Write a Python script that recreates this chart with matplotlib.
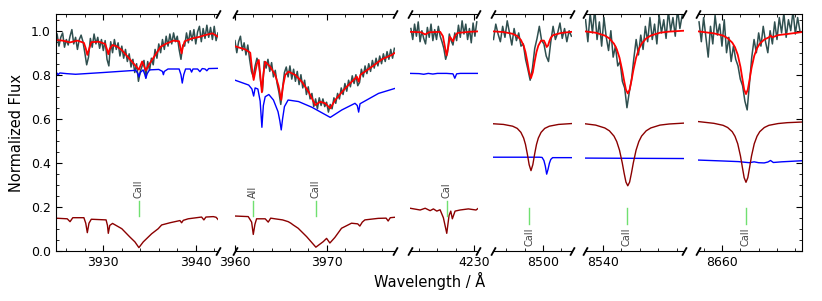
import numpy as np
import matplotlib.pyplot as plt
from matplotlib.ticker import MultipleLocator

# wavelength windows of the six broken-axis panels (Angstrom)
xlims = [(3924.85, 3942.45), (3959.95, 3977.5), (4223.0, 4230.47),
         (8494.58, 8503.13), (8538.04, 8548.8), (8657.42, 8668.76)]

# observed spectra: regular grid (start, step) + normalized flux
obs_start = [3925.0, 3960.0, 4223.1, 8494.6, 8538.1, 8657.5]
obs_step = [0.2, 0.2, 0.2, 0.25, 0.25, 0.25]
obs_1 = [0.985, 0.93, 0.97, 0.99, 0.925, 0.96, 0.935, 0.975, 1.005, 0.94,
         0.97, 0.915, 0.96, 0.98, 0.95, 0.9, 0.845, 0.88, 0.965, 0.925,
         0.985, 0.94, 0.97, 0.92, 0.96, 0.91, 0.955, 0.87, 0.84, 0.95,
         0.9, 0.96, 0.915, 0.945, 0.885, 0.93, 0.875, 0.915, 0.86, 0.895,
         0.835, 0.87, 0.81, 0.85, 0.77, 0.815, 0.84, 0.865, 0.785, 0.86,
         0.82, 0.875, 0.845, 0.915, 0.875, 0.94, 0.9, 0.96, 0.915, 0.975,
         0.93, 0.985, 0.94, 0.99, 0.95, 0.975, 0.915, 0.87, 0.935, 0.93,
         0.99, 0.945, 1.0, 0.955, 1.005, 0.94, 0.995, 1.02, 0.95, 1.01,
         0.965, 1.025, 0.97, 1.015, 0.96, 1.02, 0.955, 0.99]
obs_2 = [0.955, 0.9, 0.95, 0.975, 0.91, 0.945, 0.89, 0.935, 0.87, 0.815,
         0.79, 0.84, 0.875, 0.85, 0.77, 0.725, 0.86, 0.83, 0.87, 0.815,
         0.855, 0.79, 0.82, 0.76, 0.72, 0.665, 0.74, 0.81, 0.835, 0.79,
         0.84, 0.78, 0.825, 0.77, 0.815, 0.755, 0.8, 0.74, 0.775, 0.71,
         0.745, 0.69, 0.715, 0.655, 0.69, 0.645, 0.695, 0.66, 0.69, 0.655,
         0.675, 0.63, 0.665, 0.645, 0.695, 0.67, 0.715, 0.69, 0.74, 0.71,
         0.76, 0.725, 0.775, 0.745, 0.795, 0.76, 0.8, 0.75, 0.765, 0.825,
         0.79, 0.84, 0.805, 0.85, 0.815, 0.865, 0.83, 0.875, 0.84, 0.885,
         0.85, 0.895, 0.86, 0.905, 0.87, 0.915, 0.875, 0.92]
obs_3 = [1.01, 0.96, 1.03, 0.975, 1.04, 0.95, 1.0, 0.965, 0.94, 1.015,
         0.97, 1.03, 0.955, 1.005, 0.96, 1.02, 0.975, 0.95, 0.92, 0.87,
         0.9, 0.985, 0.955, 0.935, 0.99, 0.955, 1.025, 0.97, 1.045, 0.985,
         1.03, 0.96, 1.01, 0.945, 1.035, 0.975, 1.04]
obs_4 = [0.96, 1.03, 0.985, 0.95, 1.02, 0.97, 1.045, 0.99, 0.935, 1.01,
         0.955, 0.99, 0.93, 0.94, 0.87, 0.825, 0.775, 0.83, 0.92, 0.965,
         1.02, 0.955, 0.94, 0.885, 0.86, 0.95, 1.02, 0.96, 0.99, 1.035,
         0.965, 1.01, 0.95, 1.0, 0.975]
obs_5 = [1.05, 0.95, 1.08, 0.99, 1.1, 0.96, 1.04, 0.93, 1.06, 0.97,
         0.91, 1.0, 0.88, 0.93, 0.84, 0.86, 0.77, 0.74, 0.65, 0.72,
         0.78, 0.875, 0.96, 0.89, 0.98, 0.915, 1.02, 0.95, 1.06, 0.96,
         1.03, 0.94, 1.07, 0.99, 1.05, 0.965, 1.09, 1.0, 1.06, 0.975,
         1.1, 1.01, 1.07]
obs_6 = [1.04, 0.95, 1.06, 0.97, 0.88, 1.02, 0.94, 1.07, 0.98, 1.03,
         0.93, 1.05, 0.9, 0.97, 0.86, 0.93, 0.87, 0.84, 0.78, 0.75,
         0.68, 0.64, 0.76, 0.88, 0.96, 0.9, 0.99, 0.93, 1.02, 0.95,
         0.9, 1.0, 0.94, 1.04, 0.96, 1.06, 0.99, 1.08, 0.97, 1.05,
         1.0, 1.09, 0.985, 1.06, 1.0]

# total model fit (red)
fit_wl_1 = [3924.8, 3925.6, 3926.4, 3927.2, 3927.9, 3928.1, 3928.27, 3928.45, 3928.7, 3929.5,
            3930.2, 3930.4, 3930.54, 3930.7, 3931.0, 3931.5, 3932.0, 3932.8, 3933.5, 3933.85,
            3934.2, 3934.6, 3935.0, 3935.5, 3936.2, 3936.8, 3937.6, 3938.2, 3938.35, 3938.47,
            3938.6, 3938.8, 3939.6, 3940.4, 3941.0, 3941.8, 3942.45]
fit_f_1 = [0.958, 0.955, 0.947, 0.955, 0.945, 0.92, 0.89, 0.915, 0.948, 0.95,
           0.94, 0.915, 0.893, 0.918, 0.935, 0.928, 0.912, 0.874, 0.84, 0.823,
           0.86, 0.82, 0.85, 0.882, 0.927, 0.941, 0.955, 0.952, 0.92, 0.897,
           0.925, 0.952, 0.965, 0.972, 0.98, 0.988, 0.972]
fit_wl_2 = [3959.95, 3961.12, 3961.67, 3961.85, 3962.04, 3962.25, 3962.4, 3962.6, 3962.78, 3962.94,
            3963.1, 3963.3, 3963.85, 3964.39, 3964.75, 3965.05, 3965.25, 3965.49, 3965.85, 3966.58,
            3967.3, 3968.03, 3968.76, 3969.3, 3969.85, 3970.4, 3970.94, 3972.03, 3973.3, 3973.5,
            3973.7, 3974.94, 3976.03, 3977.12, 3977.48]
fit_f_2 = [0.93, 0.915, 0.90, 0.83, 0.776, 0.82, 0.85, 0.867, 0.79, 0.72,
           0.80, 0.859, 0.836, 0.799, 0.75, 0.685, 0.75, 0.799, 0.814, 0.799,
           0.768, 0.723, 0.662, 0.677, 0.67, 0.647, 0.685, 0.738, 0.791, 0.768,
           0.80, 0.836, 0.87, 0.89, 0.90]
fit_wl_3 = [4223.0, 4224.2, 4224.66, 4225.1, 4226.3, 4226.6, 4226.85, 4227.0, 4227.2, 4227.35,
            4227.5, 4227.7, 4227.9, 4228.2, 4229.5, 4230.47]
fit_f_3 = [0.995, 0.993, 0.983, 0.993, 0.995, 0.975, 0.92, 0.888, 0.93, 0.972,
           0.965, 0.952, 0.975, 0.99, 0.995, 0.997]
fit_wl_4 = [8494.58, 8495.69, 8496.69, 8497.19, 8497.59, 8497.89, 8498.09, 8498.29, 8498.49, 8498.69,
            8498.89, 8499.09, 8499.29, 8499.49, 8499.79, 8500.1, 8500.25, 8500.4, 8500.55, 8500.7,
            8500.85, 8501.1, 8502.0, 8503.13]
fit_f_4 = [0.997, 0.994, 0.986, 0.976, 0.958, 0.932, 0.903, 0.86, 0.811, 0.785,
           0.811, 0.86, 0.903, 0.932, 0.955, 0.955, 0.942, 0.926, 0.933, 0.953,
           0.968, 0.98, 0.99, 0.995]
fit_wl_5 = [8538.04, 8539.19, 8540.19, 8540.69, 8541.19, 8541.49, 8541.79, 8542.09, 8542.29, 8542.49,
            8542.69, 8542.89, 8543.09, 8543.29, 8543.59, 8543.89, 8544.19, 8544.69, 8545.19, 8546.19,
            8547.19, 8548.8]
fit_f_5 = [0.997, 0.991, 0.978, 0.965, 0.941, 0.916, 0.877, 0.819, 0.773, 0.732,
           0.715, 0.732, 0.773, 0.819, 0.877, 0.916, 0.941, 0.965, 0.978, 0.991,
           0.996, 1.0]
fit_wl_6 = [8657.42, 8659.12, 8660.12, 8660.62, 8661.12, 8661.42, 8661.72, 8662.02, 8662.22, 8662.42,
            8662.62, 8662.82, 8663.02, 8663.22, 8663.52, 8663.82, 8664.12, 8664.62, 8665.12, 8665.3,
            8665.5, 8666.12, 8667.12, 8668.76]
fit_f_6 = [0.997, 0.988, 0.978, 0.966, 0.946, 0.925, 0.891, 0.835, 0.783, 0.733,
           0.712, 0.733, 0.78, 0.83, 0.886, 0.92, 0.941, 0.96, 0.97, 0.978,
           0.97, 0.98, 0.985, 0.994]

# secondary component (blue)
sec_wl_1 = [3924.8, 3925.0, 3925.1, 3925.3, 3926.0, 3927.0, 3930.0, 3933.5, 3933.75, 3933.85,
            3934.0, 3934.3, 3934.5, 3934.6, 3934.75, 3935.0, 3936.0, 3936.4, 3936.5, 3936.6,
            3937.0, 3938.2, 3938.4, 3938.54, 3938.7, 3938.9, 3939.4, 3939.55, 3939.7, 3940.2,
            3940.45, 3940.7, 3941.0, 3941.2, 3941.4, 3942.45]
sec_f_1 = [0.811, 0.807, 0.80, 0.808, 0.805, 0.802, 0.81, 0.82, 0.805, 0.79,
           0.81, 0.822, 0.80, 0.784, 0.805, 0.822, 0.824, 0.815, 0.80, 0.815,
           0.826, 0.826, 0.80, 0.762, 0.80, 0.826, 0.826, 0.812, 0.826, 0.826,
           0.814, 0.828, 0.826, 0.818, 0.828, 0.829]
sec_wl_2 = [3959.95, 3961.5, 3961.85, 3962.04, 3962.2, 3962.5, 3962.75, 3962.94, 3963.1, 3963.3,
            3963.7, 3964.2, 3964.7, 3964.9, 3965.05, 3965.2, 3965.4, 3965.8, 3966.94, 3968.4,
            3970.4, 3971.67, 3973.1, 3973.35, 3973.5, 3973.65, 3975.67, 3977.48]
sec_f_2 = [0.776, 0.753, 0.735, 0.703, 0.74, 0.735, 0.68, 0.561, 0.66, 0.70,
           0.71, 0.685, 0.632, 0.59, 0.549, 0.60, 0.655, 0.685, 0.678, 0.652,
           0.606, 0.64, 0.67, 0.66, 0.63, 0.668, 0.715, 0.738]
sec_wl_3 = [4223.0, 4224.0, 4224.5, 4225.0, 4225.5, 4226.0, 4227.0, 4227.7, 4227.9, 4228.1, 4228.5, 4230.47]
sec_f_3 = [0.806, 0.805, 0.802, 0.806, 0.803, 0.806, 0.806, 0.804, 0.784, 0.804, 0.806, 0.806]
sec_wl_4 = [8494.58, 8499.6, 8499.9, 8500.1, 8500.25, 8500.4, 8500.55, 8500.7, 8500.85, 8501.05, 8503.13]
sec_f_4 = [0.425, 0.425, 0.424, 0.41, 0.385, 0.348, 0.37, 0.398, 0.415, 0.423, 0.423]
sec_wl_5 = [8538.04, 8543.0, 8548.8]
sec_f_5 = [0.421, 0.42, 0.419]
sec_wl_6 = [8657.42, 8660.0, 8661.8, 8662.5, 8663.0, 8663.5, 8664.0, 8664.6, 8665.0, 8665.3,
            8665.6, 8666.5, 8668.76]
sec_f_6 = [0.412, 0.408, 0.405, 0.402, 0.40, 0.404, 0.40, 0.399, 0.403, 0.41,
           0.401, 0.404, 0.409]

# primary component (dark red)
pri_wl_1 = [3924.8, 3926.1, 3926.4, 3926.7, 3927.9, 3928.1, 3928.27, 3928.45, 3928.7, 3930.3,
            3930.45, 3930.54, 3930.7, 3931.0, 3932.0, 3932.88, 3933.42, 3933.85, 3934.32, 3935.23,
            3935.94, 3936.31, 3937.21, 3938.29, 3938.47, 3938.65, 3939.18, 3940.63, 3940.88, 3941.1,
            3941.89, 3942.2, 3942.45]
pri_f_1 = [0.148, 0.145, 0.132, 0.15, 0.15, 0.125, 0.082, 0.125, 0.143, 0.14,
           0.115, 0.079, 0.115, 0.124, 0.10, 0.062, 0.04, 0.014, 0.04, 0.077,
           0.10, 0.117, 0.127, 0.137, 0.127, 0.138, 0.145, 0.153, 0.14, 0.153,
           0.155, 0.152, 0.14]
pri_wl_2 = [3959.81, 3961.45, 3961.82, 3962.0, 3962.18, 3962.36, 3963.3, 3963.63, 3963.9, 3964.36,
            3965.2, 3965.81, 3966.1, 3966.36, 3966.9, 3967.82, 3968.83, 3969.63, 3970.0, 3970.36,
            3970.9, 3971.63, 3972.72, 3973.4, 3973.63, 3973.9, 3974.18, 3975.63, 3976.5, 3976.72,
            3976.95, 3977.45]
pri_f_2 = [0.158, 0.155, 0.13, 0.074, 0.12, 0.145, 0.145, 0.13, 0.148, 0.145,
           0.14, 0.132, 0.125, 0.117, 0.102, 0.064, 0.016, 0.041, 0.056, 0.035,
           0.06, 0.102, 0.125, 0.122, 0.112, 0.13, 0.14, 0.147, 0.148, 0.135,
           0.15, 0.152]
pri_wl_3 = [4223.02, 4224.11, 4224.66, 4225.2, 4225.56, 4225.93, 4226.29, 4226.65, 4227.02, 4227.27,
            4227.46, 4227.63, 4227.93, 4228.47, 4229.38, 4230.22, 4230.47]
pri_f_3 = [0.193, 0.185, 0.193, 0.182, 0.19, 0.18, 0.186, 0.15, 0.079, 0.16,
           0.18, 0.145, 0.18, 0.185, 0.19, 0.185, 0.193]
pri_wl_4 = [8494.58, 8495.69, 8496.69, 8497.19, 8497.59, 8497.89, 8498.09, 8498.29, 8498.49, 8498.69,
            8498.89, 8499.09, 8499.29, 8499.49, 8499.79, 8500.19, 8500.69, 8501.69, 8503.13]
pri_f_4 = [0.577, 0.574, 0.566, 0.556, 0.538, 0.512, 0.483, 0.44, 0.391, 0.364,
           0.391, 0.44, 0.483, 0.512, 0.538, 0.556, 0.566, 0.574, 0.578]
pri_wl_5 = [8538.04, 8539.19, 8540.19, 8540.69, 8541.19, 8541.49, 8541.79, 8542.09, 8542.29, 8542.49,
            8542.69, 8542.89, 8543.09, 8543.29, 8543.59, 8543.89, 8544.19, 8544.69, 8545.19, 8546.19,
            8547.19, 8548.8]
pri_f_5 = [0.577, 0.571, 0.558, 0.545, 0.521, 0.496, 0.457, 0.399, 0.353, 0.312,
           0.295, 0.312, 0.353, 0.399, 0.457, 0.496, 0.521, 0.545, 0.558, 0.571,
           0.576, 0.58]
pri_wl_6 = [8657.42, 8659.12, 8660.12, 8660.62, 8661.12, 8661.42, 8661.72, 8662.02, 8662.22, 8662.42,
            8662.62, 8662.82, 8663.02, 8663.22, 8663.52, 8663.82, 8664.12, 8664.62, 8665.12, 8666.12,
            8667.12, 8668.76]
pri_f_6 = [0.587, 0.579, 0.57, 0.56, 0.541, 0.52, 0.486, 0.43, 0.38, 0.332,
           0.311, 0.332, 0.38, 0.43, 0.486, 0.52, 0.541, 0.56, 0.57, 0.578,
           0.582, 0.585]

# line identifications
line_panel = [0, 1, 1, 2, 3, 4, 5]
line_wl = [3933.85, 3962.0, 3968.83, 4227.0, 8498.5, 8542.58, 8662.58]
line_name = ['CaII', 'AlI', 'CaII', 'CaI', 'CaII', 'CaII', 'CaII']

obs = [obs_1, obs_2, obs_3, obs_4, obs_5, obs_6]
fit = [(fit_wl_1, fit_f_1), (fit_wl_2, fit_f_2), (fit_wl_3, fit_f_3),
       (fit_wl_4, fit_f_4), (fit_wl_5, fit_f_5), (fit_wl_6, fit_f_6)]
sec = [(sec_wl_1, sec_f_1), (sec_wl_2, sec_f_2), (sec_wl_3, sec_f_3),
       (sec_wl_4, sec_f_4), (sec_wl_5, sec_f_5), (sec_wl_6, sec_f_6)]
pri = [(pri_wl_1, pri_f_1), (pri_wl_2, pri_f_2), (pri_wl_3, pri_f_3),
       (pri_wl_4, pri_f_4), (pri_wl_5, pri_f_5), (pri_wl_6, pri_f_6)]

W, H = 822, 301
fig = plt.figure(figsize=(W / 100, H / 100), dpi=100)

# panel edges in pixels
left_px = [55.7, 234.5, 410.0, 493.3, 585.0, 698.3]
right_px = [218.4, 395.3, 478.3, 571.7, 684.0, 802.3]
top_px, bot_px = 14.0, 250.7

axes = []
for i in range(6):
    ax = fig.add_axes([left_px[i] / W, 1 - bot_px / H,
                       (right_px[i] - left_px[i]) / W, (bot_px - top_px) / H])
    axes.append(ax)
    wl = obs_start[i] + obs_step[i] * np.arange(len(obs[i]))
    ax.plot(wl, obs[i], color='#2f4f4f', lw=1.1)
    ax.plot(*fit[i], color='red', lw=1.3)
    ax.plot(*sec[i], color='blue', lw=1.0)
    ax.plot(*pri[i], color='darkred', lw=1.0)
    ax.set_xlim(*xlims[i])
    ax.set_ylim(0, 1.076)
    ax.xaxis.set_major_locator(MultipleLocator(10))
    ax.xaxis.set_minor_locator(MultipleLocator(2))
    ax.yaxis.set_major_locator(MultipleLocator(0.2))
    ax.yaxis.set_minor_locator(MultipleLocator(0.05))
    ax.tick_params(axis='both', which='both', direction='in', labelsize=9,
                   top=True, bottom=True, left=(i == 0), right=(i == 5),
                   labelleft=(i == 0))
    ax.tick_params(which='major', length=4.5)
    ax.tick_params(which='minor', length=2.5)
    ax.spines['left'].set_visible(i == 0)
    ax.spines['right'].set_visible(i == 5)

    # break marks
    kw = dict(marker=[(-1, -1.8), (1, 1.8)], markersize=6, linestyle='none',
              color='k', mec='k', mew=1.3, clip_on=False, transform=ax.transAxes)
    if i > 0:
        ax.plot([0, 0], [0, 1], **kw)
    if i < 5:
        ax.plot([1, 1], [0, 1], **kw)

for p, lw_, name in zip(line_panel, line_wl, line_name):
    ax = axes[p]
    if p < 3:
        ax.plot([lw_, lw_], [0.16, 0.225], color='#70e070', lw=1.0)
        ax.text(lw_, 0.238, name, rotation=90, ha='center', va='bottom',
                fontsize=7, color='#444444')
    else:
        ax.plot([lw_, lw_], [0.12, 0.193], color='#70e070', lw=1.0)
        ax.text(lw_, 0.106, name, rotation=90, ha='center', va='top',
                fontsize=7, color='#444444')

fig.text(16.5 / W, 1 - 132.5 / H, 'Normalized Flux', rotation=90,
         ha='center', va='center', fontsize=10.5)
fig.text(429.5 / W, 1 - 281 / H, 'Wavelength / Å', ha='center', va='center',
         fontsize=10.5)

fig.savefig('out.png', dpi=100)
